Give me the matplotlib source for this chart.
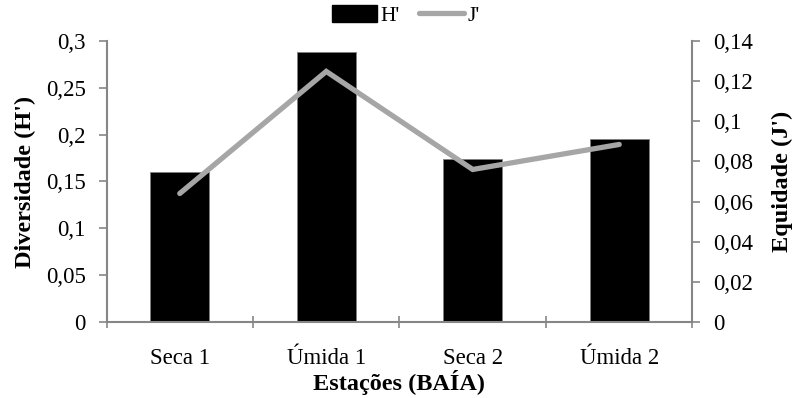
import numpy as np
import matplotlib.pyplot as plt
from matplotlib.patches import Patch
from matplotlib.lines import Line2D

# Diversity (H') and evenness (J') per sampling season
estacoes = ['Seca 1', 'Úmida 1', 'Seca 2', 'Úmida 2']
diversidade = [0.160, 0.289, 0.174, 0.196]
equidade = [0.064, 0.125, 0.076, 0.0885]

plt.rcParams['font.family'] = ['Liberation Serif', 'DejaVu Serif']
plt.rcParams['font.size'] = 16.5

axis_grey = '#868686'
line_grey = '#A6A6A6'

fig = plt.figure(figsize=(7.95, 3.98), dpi=100)
ax = fig.add_axes([0.134, 0.192, 0.737, 0.704])
ax2 = ax.twinx()

x = np.arange(len(estacoes))
ax.bar(x, diversidade, width=0.4, color='black', edgecolor='#7f7f7f',
       linewidth=0.6, zorder=2)
ax2.plot(x, equidade, color=line_grey, lw=3.8, solid_capstyle='round',
         solid_joinstyle='miter', zorder=3)

ax.set_xlim(-0.5, len(estacoes) - 0.5)
ax.set_ylim(0, 0.3)
ax2.set_ylim(0, 0.14)

ax.set_yticks(np.arange(0, 0.301, 0.05))
ax.set_yticklabels(['0', '0,05', '0,1', '0,15', '0,2', '0,25', '0,3'])
ax2.set_yticks(np.arange(0, 0.1401, 0.02))
ax2.set_yticklabels(['0', '0,02', '0,04', '0,06', '0,08', '0,1', '0,12', '0,14'])

ax.set_xticks(x)
ax.set_xticklabels(estacoes)
# category separators on the x axis
ax.set_xticks(np.arange(-0.5, len(estacoes), 1.0), minor=True)
ax.tick_params(axis='x', which='major', length=0, pad=19)
ax.tick_params(axis='x', which='minor', direction='inout', length=8,
               color=axis_grey, width=1.2)
ax.tick_params(axis='y', direction='out', length=6, color=axis_grey,
               width=1.2, pad=9)
ax2.tick_params(axis='y', direction='out', length=6, color=axis_grey,
                width=1.2, pad=9)

for a in (ax, ax2):
    a.spines['top'].set_visible(False)
    for s in ('left', 'right', 'bottom'):
        a.spines[s].set_color(axis_grey)
        a.spines[s].set_linewidth(1.5)
ax.spines['right'].set_visible(False)
ax2.spines['left'].set_visible(False)
ax2.spines['bottom'].set_visible(False)

ax.set_ylabel("Diversidade (H')", fontweight='bold', fontsize=17.5, labelpad=7)
ax2.set_ylabel("Equidade (J')", fontweight='bold', fontsize=17.5,
               rotation=90, labelpad=13)
ax.set_xlabel('Estações (BAÍA)', fontweight='bold', fontsize=17.5, labelpad=1)

handles = [Patch(facecolor='black', edgecolor='black'),
           Line2D([0], [0], color=line_grey, lw=3.8, solid_capstyle='round')]
fig.legend(handles, ["H'", "J'"], loc='upper center', ncol=2, frameon=False,
           bbox_to_anchor=(0.51, 1.035), fontsize=15.5, handlelength=2.1,
           handleheight=0.8, columnspacing=0.9, handletextpad=0.15)

fig.savefig('out.png', dpi=100)
